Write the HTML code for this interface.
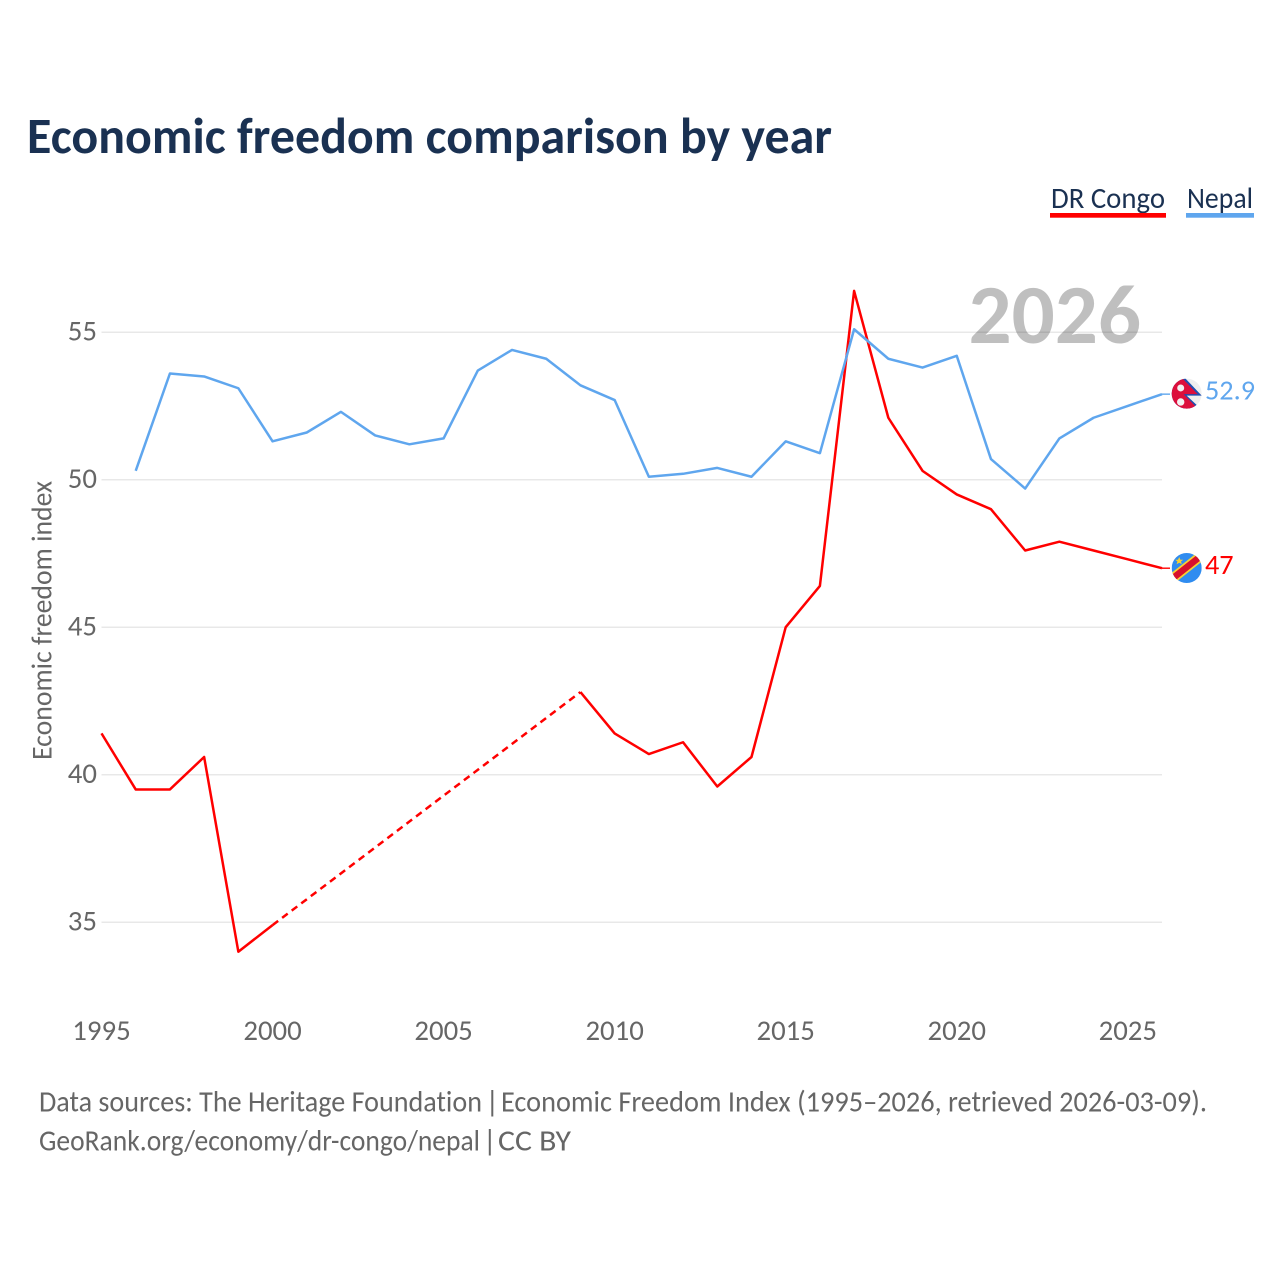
<!DOCTYPE html>
<html lang="en">
<head>
<meta charset="utf-8">
<title>Economic freedom comparison by year</title>
<style>
html,body{margin:0;padding:0;background:#fff;}
svg{display:block;}
text{font-family:Carlito,Lato,"Liberation Sans",sans-serif;font-variant-ligatures:none;}
</style>
</head>
<body>
<svg id="chart" xmlns="http://www.w3.org/2000/svg" width="1280" height="1280" viewBox="0 0 1280 1280">
  <rect width="1280" height="1280" fill="#fff"/>
  <text x="27" y="153" font-size="51" font-weight="700" fill="#1a3152" textLength="805" lengthAdjust="spacingAndGlyphs">Economic freedom comparison by year</text>
  <g>
    <g>
      <text x="1051" y="208" font-size="29.5" fill="#1a3152" textLength="114" lengthAdjust="spacingAndGlyphs">DR Congo</text>
      <rect x="1050" y="213" width="116" height="4.7" fill="#ff0000"/>
    </g>
    <g>
      <text x="1187" y="208" font-size="29.5" fill="#1a3152" textLength="66" lengthAdjust="spacingAndGlyphs">Nepal</text>
      <rect x="1186" y="213" width="68" height="4.7" fill="#5fa6ee"/>
    </g>
  </g>
  <g id="grid"></g>
  <text x="968.5" y="343" font-size="84" font-weight="700" fill="#000" fill-opacity="0.25" textLength="172.5" lengthAdjust="spacingAndGlyphs">2026</text>
  <g id="yticks"></g>
  <g id="xticks"></g>
  <text transform="translate(51.5,760) rotate(-90)" font-size="28.5" fill="#666" textLength="279" lengthAdjust="spacingAndGlyphs">Economic freedom index</text>
  <g id="series"></g>
  <g id="endpoints"></g>
  <g font-size="29.5" fill="#666">
    <text x="39" y="1111.5" textLength="443" lengthAdjust="spacingAndGlyphs">Data sources: The Heritage Foundation</text>
    <text x="485.5" y="1111.5">|</text>
    <text x="501" y="1111.5" textLength="706" lengthAdjust="spacingAndGlyphs">Economic Freedom Index (1995–2026, retrieved 2026-03-09).</text>
  </g>
  <g font-size="29.5" fill="#666">
    <text x="39" y="1150.5" textLength="441" lengthAdjust="spacingAndGlyphs">GeoRank.org/economy/dr-congo/nepal</text>
    <text x="483" y="1150.5">|</text>
    <text x="498" y="1150.5" textLength="73" lengthAdjust="spacingAndGlyphs">CC BY</text>
  </g>
</svg>
<script>
const years = [1995,1996,1997,1998,1999,2000,2001,2002,2003,2004,2005,2006,2007,2008,2009,2010,2011,2012,2013,2014,2015,2016,2017,2018,2019,2020,2021,2022,2023,2024,2025,2026];
const drCongo = [41.4,39.5,39.5,40.6,34.0,34.9,null,null,null,null,null,null,null,null,42.8,41.4,40.7,41.1,39.6,40.6,45.0,46.4,56.4,52.1,50.3,49.5,49.0,47.6,47.9,47.6,47.3,47.0];
const nepal = [null,50.3,53.6,53.5,53.1,51.3,51.6,52.3,51.5,51.2,51.4,53.7,54.4,54.1,53.2,52.7,50.1,50.2,50.4,50.1,51.3,50.9,55.1,54.1,53.8,54.2,50.7,49.7,51.4,52.1,52.5,52.9];
const yTickValues = [35,40,45,50,55];
const xTickValues = [1995,2000,2005,2010,2015,2020,2025];

const NS = 'http://www.w3.org/2000/svg';
const xScale = v => 101.5 + (v - 1995) * (1060.5 / 31);
const yScale = v => 332.2 + (55 - v) * 29.5;
function mk(tag, attrs, parent) {
  const el = document.createElementNS(NS, tag);
  for (const k in attrs) el.setAttribute(k, attrs[k]);
  parent.appendChild(el);
  return el;
}
const gridG = document.getElementById('grid');
const yG = document.getElementById('yticks');
const xG = document.getElementById('xticks');
const seriesG = document.getElementById('series');
const endG = document.getElementById('endpoints');

yTickValues.forEach(v => {
  const line = mk('line', {x1: 101.5, x2: 1162, y1: yScale(v), y2: yScale(v), stroke: '#e8e8e8', 'stroke-width': 1.5}, gridG);
  
  
  const t = mk('text', {x: 97, y: yScale(v) + 8.5, 'font-size': 28.8, fill: '#666', 'text-anchor': 'end'}, yG);
  
  
  t.textContent = v;
});
xTickValues.forEach(v => {
  const t = mk('text', {x: xScale(v), y: 1040, 'font-size': 28.8, fill: '#666', 'text-anchor': 'middle'}, xG);
  
  
  t.textContent = v;
});

function drawSeries(values, color, name) {
  let seg = [];
  let prev = null;
  const flush = () => {
    if (seg.length > 1) {
      const p = mk('polyline', {points: seg.join(' '), fill: 'none', stroke: color, 'stroke-width': 2.5, 'stroke-linejoin': 'round'}, seriesG);
      
      
    }
    seg = [];
  };
  values.forEach((v, i) => {
    if (v === null) { flush(); return; }
    if (prev !== null && prev !== i - 1) {
      const d = mk('line', {x1: xScale(years[prev]), y1: yScale(values[prev]), x2: xScale(years[i]), y2: yScale(v), stroke: color, 'stroke-width': 2.5, 'stroke-dasharray': '7 5'}, seriesG);
      
      
    }
    seg.push(xScale(years[i]) + ',' + yScale(v));
    prev = i;
  });
  flush();
  const last = values[values.length - 1];
  const c = mk('line', {x1: xScale(years[years.length - 1]), y1: yScale(last), x2: 1170, y2: yScale(last), stroke: color, 'stroke-width': 1.4}, seriesG);
  
  
}
drawSeries(drCongo, '#ff0000', 'dr-congo');
drawSeries(nepal, '#5fa6ee', 'nepal');

const defs = mk('defs', {}, document.getElementById('chart'));
function flagGroup(id, cy, name) {
  const clip = mk('clipPath', {id: id}, defs);
  mk('circle', {cx: 0, cy: 0, r: 15}, clip);
  const g = mk('g', {transform: 'translate(1186.7,' + cy + ')', 'clip-path': 'url(#' + id + ')'}, endG);
  
  
  return g;
}
function endLabel(value, y, color, name) {
  const t = mk('text', {x: 1205, y: y, 'font-size': 28.2, fill: color}, endG);
  
  
  t.textContent = value;
}
const nepalLast = nepal[nepal.length - 1];
const congoLast = drCongo[drCongo.length - 1];
const nCy = yScale(nepalLast) - 0.5;
const cCy = yScale(congoLast) - 0.2;

const nf = flagGroup('clip-nepal', nCy, 'nepal-flag');
mk('rect', {x: -15, y: -15, width: 30, height: 30, fill: '#efefef'}, nf);
mk('polygon', {points: '-16,-17 -3,-17 15,2 0,2 15,16 -16,16', fill: '#1f4fb0'}, nf);
mk('polygon', {points: '-16,-15 -4,-15 11,0.5 -3,0.5 12,16 -16,16', fill: '#dc0f3c'}, nf);
mk('circle', {cx: -6, cy: -5.7, r: 3.5, fill: '#f2f2f2'}, nf);
mk('circle', {cx: -6, cy: 8.3, r: 3.7, fill: '#f2f2f2'}, nf);

const cf = flagGroup('clip-congo', cCy, 'dr-congo-flag');
mk('rect', {x: -15, y: -15, width: 30, height: 30, fill: '#2f8cf0'}, cf);
mk('line', {x1: -18, y1: 13.5, x2: 18, y2: -15, stroke: '#f7d033', 'stroke-width': 10}, cf);
mk('line', {x1: -18, y1: 13.5, x2: 18, y2: -15, stroke: '#d8102c', 'stroke-width': 6.5}, cf);
mk('polygon', {points: '-7.5,-11 -6.3,-8.3 -3.5,-8.3 -5.7,-6.5 -4.9,-3.7 -7.5,-5.3 -10.1,-3.7 -9.3,-6.5 -11.5,-8.3 -8.7,-8.3', fill: '#f7d033'}, cf);

endLabel(nepalLast, yScale(nepalLast) + 5.5, '#5fa6ee', 'nepal-end-value');
endLabel(congoLast, yScale(congoLast) + 6, '#ff0000', 'dr-congo-end-value');
</script>
</body>
</html>
